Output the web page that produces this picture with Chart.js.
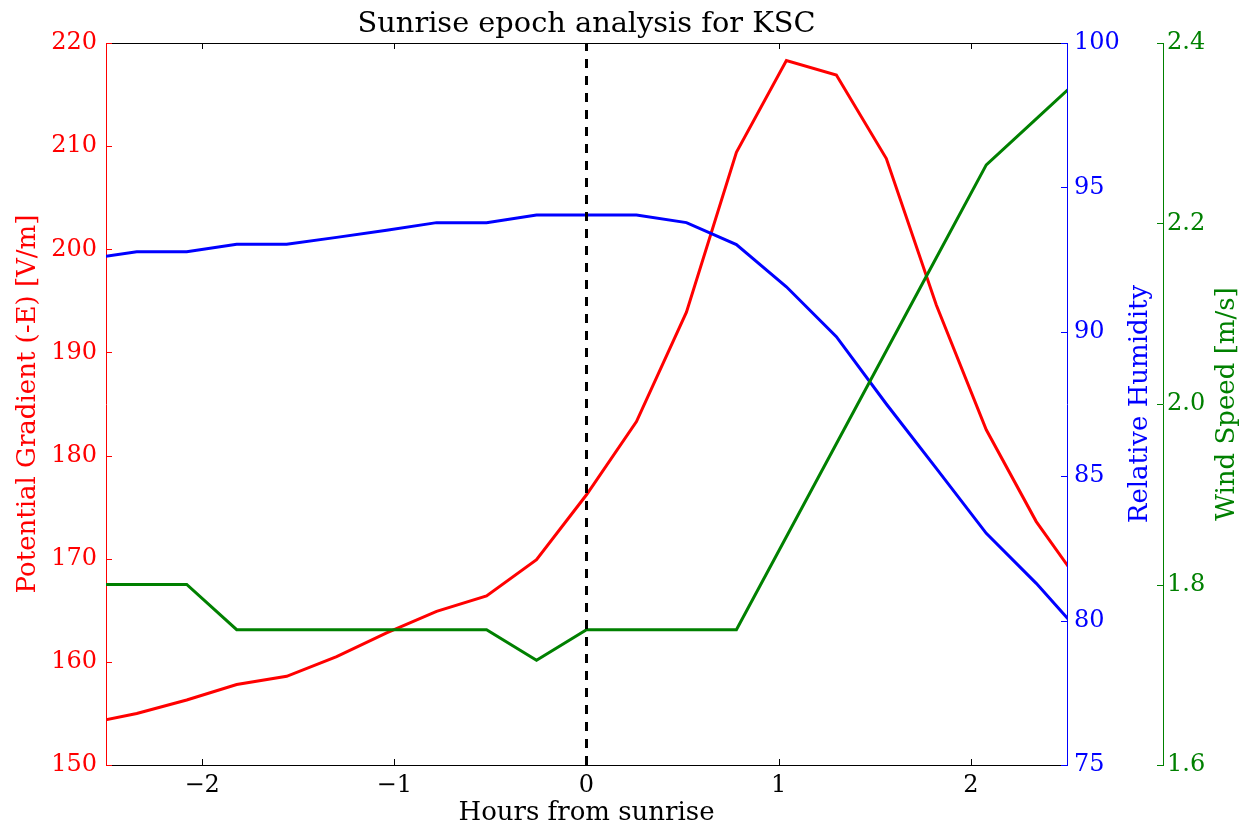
<!DOCTYPE html>
<html>
<head>
<meta charset="utf-8">
<script src="https://cdn.jsdelivr.net/npm/chart.js@4/dist/chart.umd.min.js"></script>
<style>
  html, body { margin: 0; padding: 0; background: #ffffff; }
  #wrap { width: 1249px; height: 827px; }
</style>
</head>
<body>
<div id="wrap"><canvas id="c" width="1249" height="827"></canvas></div>
<script>
// Hours relative to sunrise (bin centres)
const hours = [-2.6, -2.34, -2.08, -1.82, -1.56, -1.30, -1.04, -0.78, -0.52, -0.26,
               0, 0.26, 0.52, 0.78, 1.04, 1.30, 1.56, 1.82, 2.08, 2.34, 2.6];

// Potential gradient (-E) [V/m]
const potentialGradient = [154.0, 155.0, 156.3, 157.8, 158.6, 160.5, 162.8, 164.9, 166.4, 169.9,
                           176.2, 183.3, 193.9, 209.4, 218.3, 216.9, 208.8, 194.6, 182.5, 173.6, 166.8];

// Relative humidity [%]
const relativeHumidity = [92.52, 92.77, 92.77, 93.03, 93.03, 93.27, 93.52, 93.78, 93.78, 94.04,
                          94.04, 94.04, 93.78, 93.02, 91.56, 89.83, 87.5, 85.27, 83.02, 81.29, 79.36];

// Wind speed [m/s]
const windSpeed = [1.80, 1.80, 1.80, 1.75, 1.75, 1.75, 1.75, 1.75, 1.75, 1.716,
                   1.75, 1.75, 1.75, 1.75, 1.853, 1.956, 2.059, 2.162, 2.265, 2.316, 2.367];

// Sunrise marker
const sunriseHour = [0, 0];
const sunriseSpan = [150, 220];

// Axis ranges and tick values
const xRange = [-2.5, 2.5];
const xTicks = [-2, -1, 0, 1, 2];
const pgRange = [150, 220];
const rhRange = [75, 100];
const wsRange = [1.6, 2.4];

const FONT = "'DejaVu Serif', 'Liberation Serif', serif";
const RED = '#ff0000', BLUE = '#0000ff', GREEN = '#008000';
const TICK_SIZE = 24, LABEL_SIZE = 26, TITLE_SIZE = 28.8;
const fmtMinus = v => (v < 0 ? '\u2212' + Math.abs(v) : String(v));

const pts = (xs, ys) => xs.map((x, i) => ({ x: x, y: ys[i] }));

// Tick marks pointing into the plot, spine on top, rotated right-hand titles
const axisDecor = {
  id: 'axisDecor',
  afterDraw(chart) {
    const { ctx, chartArea: a, scales } = chart;
    const px = v => Math.round(v) + 0.5;
    const L = 6;
    ctx.save();
    ctx.lineWidth = 1;

    // top spine
    ctx.strokeStyle = '#000000';
    ctx.beginPath();
    ctx.moveTo(a.left, px(a.top));
    ctx.lineTo(a.right, px(a.top));
    ctx.stroke();

    // x ticks, bottom and top
    scales.x.ticks.forEach(t => {
      const x = px(scales.x.getPixelForValue(t.value));
      ctx.beginPath();
      ctx.moveTo(x, a.bottom); ctx.lineTo(x, a.bottom - L);
      ctx.moveTo(x, a.top); ctx.lineTo(x, a.top + L);
      ctx.stroke();
    });

    // left axis ticks
    ctx.strokeStyle = RED;
    scales.yPG.ticks.forEach(t => {
      const y = px(scales.yPG.getPixelForValue(t.value));
      ctx.beginPath();
      ctx.moveTo(a.left, y); ctx.lineTo(a.left + L, y);
      ctx.stroke();
    });

    // humidity ticks
    ctx.strokeStyle = BLUE;
    scales.yRH.ticks.forEach(t => {
      const y = px(scales.yRH.getPixelForValue(t.value));
      ctx.beginPath();
      ctx.moveTo(a.right, y); ctx.lineTo(a.right - L, y);
      ctx.stroke();
    });

    // wind speed ticks
    ctx.strokeStyle = GREEN;
    const ws = scales.yWS;
    ws.ticks.forEach(t => {
      const y = px(ws.getPixelForValue(t.value));
      ctx.beginPath();
      ctx.moveTo(ws.left, y); ctx.lineTo(ws.left - L, y);
      ctx.stroke();
    });

    // right-hand axis titles, reading bottom to top
    const midY = (a.top + a.bottom) / 2;
    ctx.font = LABEL_SIZE + 'px ' + FONT;
    ctx.textAlign = 'center';
    ctx.textBaseline = 'middle';
    [[BLUE, 'Relative Humidity', 1140], [GREEN, 'Wind Speed [m/s]', 1227]].forEach(([c, txt, x]) => {
      ctx.save();
      ctx.translate(x, midY);
      ctx.rotate(-Math.PI / 2);
      ctx.fillStyle = c;
      ctx.fillText(txt, 0, 0);
      ctx.restore();
    });
    ctx.restore();
  }
};

const lineDs = (label, data, color, axis, extra) => Object.assign({
  label: label,
  data: data,
  yAxisID: axis,
  borderColor: color,
  backgroundColor: color,
  borderWidth: 3,
  pointRadius: 0,
  tension: 0,
  fill: false,
  clip: 0
}, extra || {});

new Chart(document.getElementById('c'), {
  type: 'line',
  data: {
    datasets: [
      lineDs('Sunrise', pts(sunriseHour, sunriseSpan), '#000000', 'yPG', { borderDash: [9, 8], order: 0 }),
      lineDs('Wind Speed', pts(hours, windSpeed), GREEN, 'yWS', { order: 1 }),
      lineDs('Relative Humidity', pts(hours, relativeHumidity), BLUE, 'yRH', { order: 2 }),
      lineDs('Potential Gradient', pts(hours, potentialGradient), RED, 'yPG', { order: 3 })
    ]
  },
  options: {
    responsive: false,
    animation: false,
    devicePixelRatio: 1,
    layout: { padding: 0 },
    plugins: {
      legend: { display: false },
      tooltip: { enabled: false },
      title: {
        display: true,
        fullSize: false,
        text: 'Sunrise epoch analysis for KSC',
        color: '#000000',
        font: { family: FONT, size: TITLE_SIZE, weight: 'normal', lineHeight: 1.2 },
        padding: { top: 7, bottom: 1.44 }
      }
    },
    scales: {
      x: {
        type: 'linear',
        position: 'bottom',
        min: xRange[0], max: xRange[1],
        afterBuildTicks: s => { s.ticks = xTicks.map(v => ({ value: v })); },
        grid: { display: false, drawTicks: false },
        border: { display: true, color: '#000000', width: 1 },
        ticks: {
          padding: 6, color: '#000000',
          font: { family: FONT, size: TICK_SIZE },
          callback: v => fmtMinus(v)
        },
        title: {
          display: true, text: 'Hours from sunrise', color: '#000000',
          font: { family: FONT, size: LABEL_SIZE }, padding: { top: 0, bottom: -2 }
        },
        afterFit: s => { s.height = 62; }
      },
      yPG: {
        type: 'linear', position: 'left',
        min: pgRange[0], max: pgRange[1],
        grid: { display: false, drawTicks: false },
        border: { display: true, color: RED, width: 1 },
        ticks: { stepSize: 10, padding: 9, color: RED, font: { family: FONT, size: TICK_SIZE } },
        title: {
          display: true, text: 'Potential Gradient (-E) [V/m]', color: RED,
          font: { family: FONT, size: LABEL_SIZE }, padding: { top: 13, bottom: 0 }
        },
        afterFit: s => { s.width = 106; }
      },
      yRH: {
        type: 'linear', position: 'right',
        min: rhRange[0], max: rhRange[1],
        grid: { display: false, drawTicks: false },
        border: { display: true, color: BLUE, width: 1 },
        ticks: { stepSize: 5, padding: 7, color: BLUE, font: { family: FONT, size: TICK_SIZE } },
        afterFit: s => { s.width = 96; }
      },
      yWS: {
        type: 'linear', position: 'right',
        min: wsRange[0], max: wsRange[1],
        grid: { display: false, drawTicks: false },
        border: { display: true, color: GREEN, width: 1 },
        ticks: {
          stepSize: 0.2, padding: 4, color: GREEN, font: { family: FONT, size: TICK_SIZE },
          callback: v => Number(v).toFixed(1)
        },
        afterFit: s => { s.width = 86; }
      }
    }
  },
  plugins: [axisDecor]
});
</script>
</body>
</html>
